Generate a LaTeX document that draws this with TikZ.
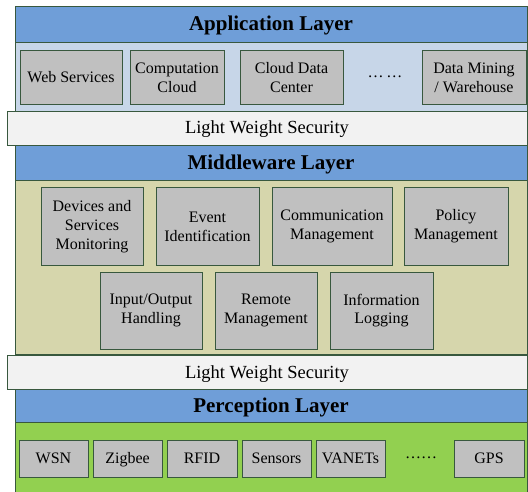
\documentclass[tikz,border=0pt]{standalone}
\usepackage{fontspec}
\setmainfont{Liberation Serif}
\definecolor{headblue}{RGB}{111,158,216}
\definecolor{appfill}{RGB}{199,214,232}
\definecolor{midfill}{RGB}{214,214,172}
\definecolor{perfill}{RGB}{146,208,80}
\definecolor{secfill}{RGB}{242,242,242}
\definecolor{boxfill}{RGB}{192,192,192}
\definecolor{edgegreen}{RGB}{56,88,62}
\tikzset{
  every node/.style={inner sep=0pt, outer sep=0pt},
  layerpart/.style={draw=edgegreen, line width=0.9pt, anchor=north west, minimum width=512pt},
  header/.style={layerpart, fill=headblue, font=\fontsize{21}{24}\selectfont\bfseries,
    text height=13.6pt, text depth=0pt},
  secbar/.style={draw=edgegreen, line width=0.9pt, fill=secfill, anchor=north west,
    minimum width=520pt, minimum height=34pt, font=\fontsize{18.5}{21}\selectfont,
    text height=12pt, text depth=0pt},
  item/.style={draw=edgegreen, line width=1pt, fill=boxfill, align=center,
    font=\fontsize{16}{18.7}\selectfont},
  oneline/.style={item, text height=10.8pt, text depth=0pt},
  gap/.style={font=\fontsize{16}{18.7}\selectfont},
}
\begin{document}
\begin{tikzpicture}[x=1pt,y=-1pt]
\useasboundingbox (0,0) rectangle (528,492);

% Application layer
\node[layerpart, fill=appfill, minimum height=69pt] (appbody) at (15,42) {};
\node[header, minimum height=36pt] (apphead) at (15,6) {Application Layer};
\node[oneline, minimum width=102pt, minimum height=54pt] (web) at (71,77.5) {Web Services};
\node[item, minimum width=94pt, minimum height=54pt] (comp) at (177,77.5) {Computation\\Cloud};
\node[item, minimum width=103pt, minimum height=54pt] (cdc) at (291.5,77.5) {Cloud Data\\Center};
\node[gap] (appdots) at (385,77) {\ldots\,\ldots};
\node[item, minimum width=104pt, minimum height=54pt] (mining) at (474,78) {Data Mining\\/ Warehouse};

% Middleware layer
\node[layerpart, fill=midfill, minimum height=174pt] (midbody) at (15,180) {};
\node[header, minimum height=35pt] (midhead) at (15,145) {Middleware Layer};
\node[item, minimum width=102pt, minimum height=77pt] (devmon) at (92,226.5) {Devices and\\Services\\Monitoring};
\node[item, minimum width=103pt, minimum height=77pt] (event) at (207.5,226.5) {Event\\Identification};
\node[item, minimum width=120pt, minimum height=77pt] (commgmt) at (332,226.5) {Communication\\Management};
\node[item, minimum width=104pt, minimum height=77pt] (policy) at (456,226.5) {Policy\\Management};
\node[item, minimum width=102pt, minimum height=77pt] (io) at (151,310.5) {Input/Output\\Handling};
\node[item, minimum width=102pt, minimum height=77pt] (remote) at (266,310.5) {Remote\\Management};
\node[item, minimum width=103pt, minimum height=77pt] (infolog) at (381.5,310.5) {Information\\Logging};

% Perception layer
\node[layerpart, fill=perfill, minimum height=70pt] (perbody) at (15,422) {};
\node[header, minimum height=33pt] (perhead) at (15,389) {Perception Layer};
\node[oneline, minimum width=69pt, minimum height=37pt] (wsn) at (53.5,458.5) {WSN};
\node[oneline, minimum width=69pt, minimum height=37pt] (zigbee) at (127.5,458.5) {Zigbee};
\node[oneline, minimum width=70pt, minimum height=37pt] (rfid) at (202,458.5) {RFID};
\node[oneline, minimum width=69pt, minimum height=37pt] (sensors) at (276.5,458.5) {Sensors};
\node[oneline, minimum width=69pt, minimum height=37pt] (vanets) at (350.5,458.5) {VANETs};
\node[gap] (perdots) at (421,458) {\ldots\ldots};
\node[oneline, minimum width=70pt, minimum height=37pt] (gps) at (489,458.5) {GPS};

% Security bars between the layers
\node[secbar] (secupper) at (7,111) {Light Weight Security};
\node[secbar] (seclower) at (7,355) {Light Weight Security};
\end{tikzpicture}
\end{document}
